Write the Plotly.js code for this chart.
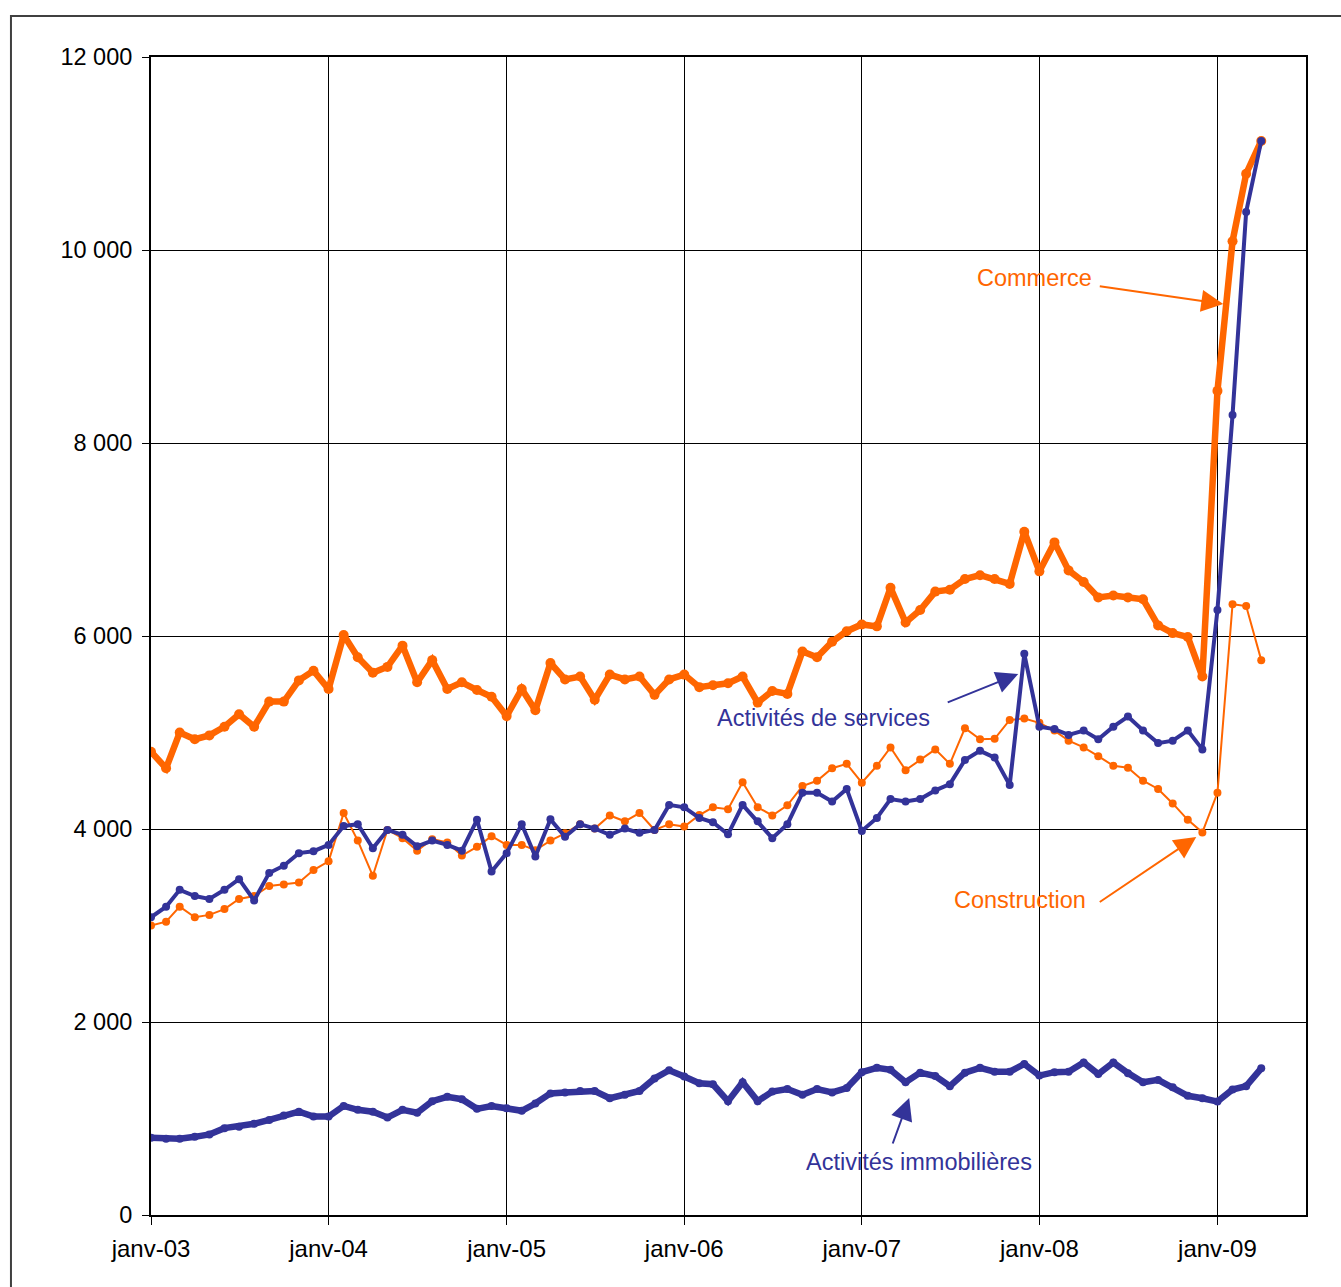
<!DOCTYPE html>
<html>
<head>
<meta charset="utf-8">
<script src="https://cdn.plot.ly/plotly-3.0.1.min.js"></script>
<style>
html,body{margin:0;padding:0;background:#fff;}
#chart{width:1341px;height:1287px;}
</style>
</head>
<body>
<div id="chart"></div>
<script>
var months = [
"2003-01","2003-02","2003-03","2003-04","2003-05","2003-06","2003-07","2003-08","2003-09","2003-10","2003-11","2003-12",
"2004-01","2004-02","2004-03","2004-04","2004-05","2004-06","2004-07","2004-08","2004-09","2004-10","2004-11","2004-12",
"2005-01","2005-02","2005-03","2005-04","2005-05","2005-06","2005-07","2005-08","2005-09","2005-10","2005-11","2005-12",
"2006-01","2006-02","2006-03","2006-04","2006-05","2006-06","2006-07","2006-08","2006-09","2006-10","2006-11","2006-12",
"2007-01","2007-02","2007-03","2007-04","2007-05","2007-06","2007-07","2007-08","2007-09","2007-10","2007-11","2007-12",
"2008-01","2008-02","2008-03","2008-04","2008-05","2008-06","2008-07","2008-08","2008-09","2008-10","2008-11","2008-12",
"2009-01","2009-02","2009-03","2009-04"];

var commerce = [
4800,4630,5000,4930,4970,5060,5190,5060,5320,5320,5540,5640,
5450,6010,5780,5620,5680,5900,5520,5750,5450,5520,5440,5370,
5170,5450,5230,5720,5550,5580,5340,5600,5550,5580,5390,5550,
5600,5470,5490,5510,5580,5310,5430,5400,5840,5780,5940,6050,
6120,6100,6500,6140,6270,6460,6480,6590,6630,6590,6540,7080,
6670,6970,6680,6560,6400,6420,6400,6380,6110,6030,5990,5580,
8540,10090,10790,11130];

var services = [
3085,3195,3370,3305,3275,3370,3480,3260,3545,3620,3750,3770,
3835,4030,4050,3800,3990,3940,3820,3880,3835,3775,4095,3560,
3750,4050,3715,4100,3920,4050,4005,3940,4005,3960,3990,4250,
4225,4115,4070,3945,4250,4080,3905,4050,4375,4375,4285,4415,
3980,4115,4310,4285,4310,4400,4465,4715,4810,4740,4455,5815,
5060,5035,4975,5020,4930,5060,5165,5020,4890,4915,5020,4825,
6270,8290,10395,11130];

var construction = [
3000,3040,3195,3085,3110,3170,3275,3305,3410,3425,3445,3575,
3665,4165,3880,3515,3990,3905,3775,3895,3860,3725,3815,3925,
3835,3835,3780,3880,3955,4050,4005,4140,4080,4165,3990,4050,
4025,4145,4225,4205,4485,4225,4140,4245,4445,4500,4630,4675,
4480,4655,4845,4610,4720,4825,4675,5045,4930,4935,5130,5145,
5100,5020,4915,4845,4755,4655,4635,4500,4415,4265,4095,3965,
4375,6330,6310,5750];

var immobilier = [
800,790,790,810,835,900,915,945,985,1030,1070,1020,
1020,1130,1090,1070,1010,1090,1060,1180,1225,1200,1100,1130,
1105,1080,1155,1260,1270,1285,1285,1210,1245,1285,1415,1500,
1435,1365,1355,1180,1375,1180,1280,1305,1245,1305,1270,1315,
1480,1525,1505,1375,1475,1440,1335,1475,1525,1485,1485,1565,
1445,1480,1485,1580,1460,1580,1470,1375,1400,1325,1235,1210,
1175,1300,1335,1520];

var xTickVals = ["2003-01-01","2004-01-01","2005-01-01","2006-01-01","2007-01-01","2008-01-01","2009-01-01"];
var xTickText = ["janv-03","janv-04","janv-05","janv-06","janv-07","janv-08","janv-09"];
var yTickVals = [0,2000,4000,6000,8000,10000,12000];
var yTickText = ["0","2 000","4 000","6 000","8 000","10 000","12 000"];

var ORANGE = "#FF6600", BLUE = "#333399";
var FONT = "Liberation Sans, Arial, sans-serif";

var traces = [
  {x: months, y: construction, name: "Construction", type: "scatter", mode: "lines+markers",
   line: {color: ORANGE, width: 2}, marker: {color: ORANGE, size: 8}},
  {x: months, y: commerce, name: "Commerce", type: "scatter", mode: "lines+markers",
   line: {color: ORANGE, width: 6.5}, marker: {color: ORANGE, size: 10}},
  {x: months, y: services, name: "Activités de services", type: "scatter", mode: "lines+markers",
   line: {color: BLUE, width: 4}, marker: {color: BLUE, size: 8}},
  {x: months, y: immobilier, name: "Activités immobilières", type: "scatter", mode: "lines+markers",
   line: {color: BLUE, width: 6.5}, marker: {color: BLUE, size: 8}}
];

// pixel helpers for annotation placement (plot area: x 151..1305.7, y 57..1215)
var L = 151, R = 1305.7, T = 57, B = 1215;
function px(xp){ return (xp - L) / (R - L); }
function py(yp){ return (B - yp) / (B - T); }

function label(text, cx, cy, color){
  return {xref: "paper", yref: "paper", x: px(cx), y: py(cy), text: text, showarrow: false,
          xanchor: "center", yanchor: "middle", font: {family: FONT, size: 23.5, color: color}};
}
function arrow(tx, ty, hx, hy, color, w){
  return {xref: "paper", yref: "paper", x: px(hx), y: py(hy), text: "", showarrow: true,
          ax: tx - hx, ay: ty - hy, axref: "pixel", ayref: "pixel",
          arrowcolor: color, arrowwidth: w, arrowhead: 2, arrowsize: 2.2, standoff: 0};
}

var layout = {
  width: 1341, height: 1287,
  margin: {l: 151, r: 35, t: 57, b: 72, pad: 0},
  paper_bgcolor: "#fff", plot_bgcolor: "#fff",
  showlegend: false,
  font: {family: FONT, size: 23, color: "#000"},
  xaxis: {
    type: "date", range: ["2003-01-01", "2009-07-02"],
    tickvals: xTickVals, ticktext: xTickText,
    showgrid: true, gridcolor: "#000", gridwidth: 1,
    showline: true, linecolor: "#000", linewidth: 2, mirror: true,
    ticks: "outside", ticklen: 8, tickcolor: "#000", tickwidth: 1,
    ticklabelstandoff: 3,
    tickfont: {family: FONT, size: 24, color: "#000"},
    zeroline: false
  },
  yaxis: {
    range: [0, 12000], tickvals: yTickVals, ticktext: yTickText,
    showgrid: true, gridcolor: "#000", gridwidth: 1,
    showline: true, linecolor: "#000", linewidth: 2, mirror: true,
    ticks: "outside", ticklen: 7, tickcolor: "#000", tickwidth: 1,
    ticklabelstandoff: 5,
    tickfont: {family: FONT, size: 23.5, color: "#000"},
    zeroline: false
  },
  shapes: [
    {type: "rect", xref: "paper", yref: "paper",
     x0: px(11), x1: px(1348), y0: py(1296), y1: py(16),
     line: {color: "#404040", width: 2}, fillcolor: "rgba(0,0,0,0)", layer: "below"}
  ],
  annotations: [
    label("Commerce", 1034, 278, ORANGE),
    arrow(1098, 286, 1223, 304, ORANGE, 2),
    label("Activités de services", 823, 718, BLUE),
    arrow(946, 703, 1018, 674, BLUE, 2),
    label("Construction", 1020, 900, ORANGE),
    arrow(1098, 903, 1196, 837, ORANGE, 2),
    label("Activités immobilières", 919, 1162, BLUE),
    arrow(892, 1145, 909, 1098, BLUE, 2)
  ]
};

Plotly.newPlot("chart", traces, layout, {displayModeBar: false, staticPlot: true});
</script>
</body>
</html>
